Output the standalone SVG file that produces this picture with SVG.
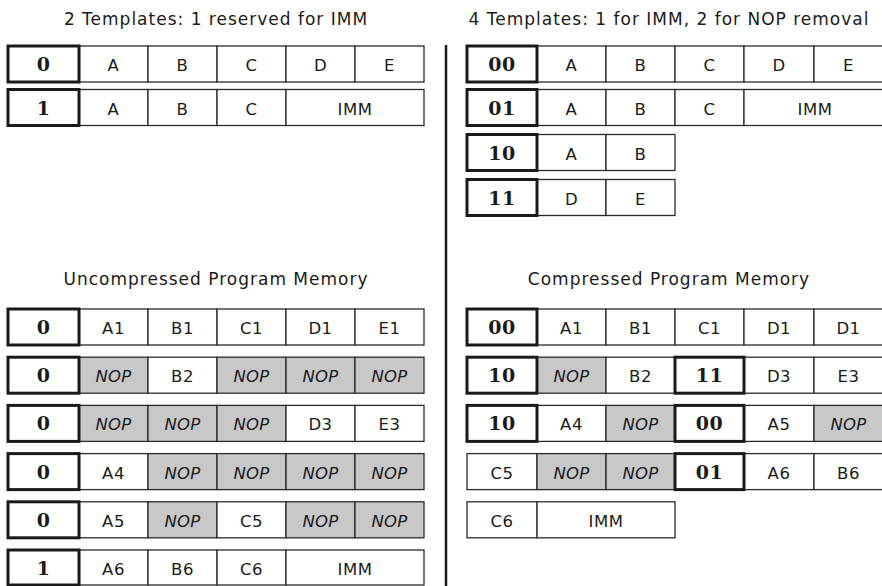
<svg xmlns="http://www.w3.org/2000/svg" width="882" height="586" viewBox="0 0 882 586">
<style>
.c{fill:#fff;stroke:#2a2a2a;stroke-width:1.3}
.g{fill:#c8c8c8;stroke:#2a2a2a;stroke-width:1.3}
.k{fill:#fff;stroke:#1a1a1a;stroke-width:3}
text{font-family:"DejaVu Sans",sans-serif;font-size:16.5px;letter-spacing:0.5px;text-anchor:middle;fill:#1a1a1a}
.i{font-style:italic;letter-spacing:0.2px}
.b{font-family:"DejaVu Serif",serif;font-weight:bold;font-size:19px;letter-spacing:0.5px}
.h{font-size:17px;letter-spacing:1px}
</style>
<rect width="882" height="586" fill="#fff"/>
<g id="titles">
<text class="h" x="216" y="25">2 Templates: 1 reserved for IMM</text>
<text class="h" x="669" y="25">4 Templates: 1 for IMM, 2 for NOP removal</text>
<text class="h" x="216" y="285">Uncompressed Program Memory</text>
<text class="h" x="669" y="285">Compressed Program Memory</text>
</g>
<g id="divider"><line x1="446" y1="45" x2="446" y2="586" stroke="#1a1a1a" stroke-width="2.5"/></g>

<!-- Left templates -->
<g id="lt0" transform="translate(0,46)">
<rect class="c" x="79" y="0" width="69" height="36"/><rect class="c" x="148" y="0" width="69" height="36"/><rect class="c" x="217" y="0" width="69" height="36"/><rect class="c" x="286" y="0" width="69" height="36"/><rect class="c" x="355" y="0" width="69" height="36"/>
<rect class="k" x="8" y="0" width="71" height="36"/>
<text class="b" x="43.5" y="25">0</text><text x="113.5" y="25">A</text><text x="182.5" y="25">B</text><text x="251.5" y="25">C</text><text x="320.5" y="25">D</text><text x="389.5" y="25">E</text>
</g>
<g id="lt1" transform="translate(0,89.5)">
<rect class="c" x="79" y="0" width="69" height="36"/><rect class="c" x="148" y="0" width="69" height="36"/><rect class="c" x="217" y="0" width="69" height="36"/><rect class="c" x="286" y="0" width="138" height="36"/>
<rect class="k" x="8" y="0" width="71" height="36"/>
<text class="b" x="43.5" y="25">1</text><text x="113.5" y="25">A</text><text x="182.5" y="25">B</text><text x="251.5" y="25">C</text><text x="355" y="25">IMM</text>
</g>

<!-- Right templates -->
<g id="rt00" transform="translate(0,46)">
<rect class="c" x="537" y="0" width="69" height="36"/><rect class="c" x="606" y="0" width="69" height="36"/><rect class="c" x="675" y="0" width="69" height="36"/><rect class="c" x="744" y="0" width="70" height="36"/><rect class="c" x="814" y="0" width="70" height="36"/>
<rect class="k" x="467" y="0" width="70" height="36"/>
<text class="b" x="502" y="25">00</text><text x="571.5" y="25">A</text><text x="640.5" y="25">B</text><text x="709.5" y="25">C</text><text x="779" y="25">D</text><text x="848.5" y="25">E</text>
</g>
<g id="rt01" transform="translate(0,89.5)">
<rect class="c" x="537" y="0" width="69" height="36"/><rect class="c" x="606" y="0" width="69" height="36"/><rect class="c" x="675" y="0" width="69" height="36"/><rect class="c" x="744" y="0" width="140" height="36"/>
<rect class="k" x="467" y="0" width="70" height="36"/>
<text class="b" x="502" y="25">01</text><text x="571.5" y="25">A</text><text x="640.5" y="25">B</text><text x="709.5" y="25">C</text><text x="815" y="25">IMM</text>
</g>
<g id="rt10" transform="translate(0,134.5)">
<rect class="c" x="537" y="0" width="69" height="36"/><rect class="c" x="606" y="0" width="69" height="36"/>
<rect class="k" x="467" y="0" width="70" height="36"/>
<text class="b" x="502" y="25">10</text><text x="571.5" y="25">A</text><text x="640.5" y="25">B</text>
</g>
<g id="rt11" transform="translate(0,179.5)">
<rect class="c" x="537" y="0" width="69" height="36"/><rect class="c" x="606" y="0" width="69" height="36"/>
<rect class="k" x="467" y="0" width="70" height="36"/>
<text class="b" x="502" y="25">11</text><text x="571.5" y="25">D</text><text x="640.5" y="25">E</text>
</g>

<!-- Uncompressed memory -->
<g id="um1" transform="translate(0,309)">
<rect class="c" x="79" y="0" width="69" height="36"/><rect class="c" x="148" y="0" width="69" height="36"/><rect class="c" x="217" y="0" width="69" height="36"/><rect class="c" x="286" y="0" width="69" height="36"/><rect class="c" x="355" y="0" width="69" height="36"/>
<rect class="k" x="8" y="0" width="71" height="36"/>
<text class="b" x="43.5" y="25">0</text><text x="113.5" y="25">A1</text><text x="182.5" y="25">B1</text><text x="251.5" y="25">C1</text><text x="320.5" y="25">D1</text><text x="389.5" y="25">E1</text>
</g>
<g id="um2" transform="translate(0,357.2)">
<rect class="g" x="79" y="0" width="69" height="36"/><rect class="c" x="148" y="0" width="69" height="36"/><rect class="g" x="217" y="0" width="69" height="36"/><rect class="g" x="286" y="0" width="69" height="36"/><rect class="g" x="355" y="0" width="69" height="36"/>
<rect class="k" x="8" y="0" width="71" height="36"/>
<text class="b" x="43.5" y="25">0</text><text class="i" x="113.5" y="25">NOP</text><text x="182.5" y="25">B2</text><text class="i" x="251.5" y="25">NOP</text><text class="i" x="320.5" y="25">NOP</text><text class="i" x="389.5" y="25">NOP</text>
</g>
<g id="um3" transform="translate(0,405.4)">
<rect class="g" x="79" y="0" width="69" height="36"/><rect class="g" x="148" y="0" width="69" height="36"/><rect class="g" x="217" y="0" width="69" height="36"/><rect class="c" x="286" y="0" width="69" height="36"/><rect class="c" x="355" y="0" width="69" height="36"/>
<rect class="k" x="8" y="0" width="71" height="36"/>
<text class="b" x="43.5" y="25">0</text><text class="i" x="113.5" y="25">NOP</text><text class="i" x="182.5" y="25">NOP</text><text class="i" x="251.5" y="25">NOP</text><text x="320.5" y="25">D3</text><text x="389.5" y="25">E3</text>
</g>
<g id="um4" transform="translate(0,453.6)">
<rect class="c" x="79" y="0" width="69" height="36"/><rect class="g" x="148" y="0" width="69" height="36"/><rect class="g" x="217" y="0" width="69" height="36"/><rect class="g" x="286" y="0" width="69" height="36"/><rect class="g" x="355" y="0" width="69" height="36"/>
<rect class="k" x="8" y="0" width="71" height="36"/>
<text class="b" x="43.5" y="25">0</text><text x="113.5" y="25">A4</text><text class="i" x="182.5" y="25">NOP</text><text class="i" x="251.5" y="25">NOP</text><text class="i" x="320.5" y="25">NOP</text><text class="i" x="389.5" y="25">NOP</text>
</g>
<g id="um5" transform="translate(0,501.8)">
<rect class="c" x="79" y="0" width="69" height="36"/><rect class="g" x="148" y="0" width="69" height="36"/><rect class="c" x="217" y="0" width="69" height="36"/><rect class="g" x="286" y="0" width="69" height="36"/><rect class="g" x="355" y="0" width="69" height="36"/>
<rect class="k" x="8" y="0" width="71" height="36"/>
<text class="b" x="43.5" y="25">0</text><text x="113.5" y="25">A5</text><text class="i" x="182.5" y="25">NOP</text><text x="251.5" y="25">C5</text><text class="i" x="320.5" y="25">NOP</text><text class="i" x="389.5" y="25">NOP</text>
</g>
<g id="um6" transform="translate(0,550)">
<rect class="c" x="79" y="0" width="69" height="35"/><rect class="c" x="148" y="0" width="69" height="35"/><rect class="c" x="217" y="0" width="69" height="35"/><rect class="c" x="286" y="0" width="138" height="35"/>
<rect class="k" x="8" y="0" width="71" height="35"/>
<text class="b" x="43.5" y="25">1</text><text x="113.5" y="25">A6</text><text x="182.5" y="25">B6</text><text x="251.5" y="25">C6</text><text x="355" y="25">IMM</text>
</g>

<!-- Compressed memory -->
<g id="cm1" transform="translate(0,309)">
<rect class="c" x="537" y="0" width="69" height="36"/><rect class="c" x="606" y="0" width="69" height="36"/><rect class="c" x="675" y="0" width="69" height="36"/><rect class="c" x="744" y="0" width="70" height="36"/><rect class="c" x="814" y="0" width="70" height="36"/>
<rect class="k" x="467" y="0" width="70" height="36"/>
<text class="b" x="502" y="25">00</text><text x="571.5" y="25">A1</text><text x="640.5" y="25">B1</text><text x="709.5" y="25">C1</text><text x="779" y="25">D1</text><text x="848.5" y="25">D1</text>
</g>
<g id="cm2" transform="translate(0,357.2)">
<rect class="g" x="537" y="0" width="69" height="36"/><rect class="c" x="606" y="0" width="69" height="36"/><rect class="c" x="744" y="0" width="70" height="36"/><rect class="c" x="814" y="0" width="70" height="36"/>
<rect class="k" x="467" y="0" width="70" height="36"/><rect class="k" x="675" y="0" width="69" height="36"/>
<text class="b" x="502" y="25">10</text><text class="i" x="571.5" y="25">NOP</text><text x="640.5" y="25">B2</text><text class="b" x="709.5" y="25">11</text><text x="779" y="25">D3</text><text x="848.5" y="25">E3</text>
</g>
<g id="cm3" transform="translate(0,405.4)">
<rect class="c" x="537" y="0" width="69" height="36"/><rect class="g" x="606" y="0" width="69" height="36"/><rect class="c" x="744" y="0" width="70" height="36"/><rect class="g" x="814" y="0" width="70" height="36"/>
<rect class="k" x="467" y="0" width="70" height="36"/><rect class="k" x="675" y="0" width="69" height="36"/>
<text class="b" x="502" y="25">10</text><text x="571.5" y="25">A4</text><text class="i" x="640.5" y="25">NOP</text><text class="b" x="709.5" y="25">00</text><text x="779" y="25">A5</text><text class="i" x="848.5" y="25">NOP</text>
</g>
<g id="cm4" transform="translate(0,453.6)">
<rect class="c" x="467" y="0" width="70" height="36"/><rect class="g" x="537" y="0" width="69" height="36"/><rect class="g" x="606" y="0" width="69" height="36"/><rect class="c" x="744" y="0" width="70" height="36"/><rect class="c" x="814" y="0" width="70" height="36"/>
<rect class="k" x="675" y="0" width="69" height="36"/>
<text x="502" y="25">C5</text><text class="i" x="571.5" y="25">NOP</text><text class="i" x="640.5" y="25">NOP</text><text class="b" x="709.5" y="25">01</text><text x="779" y="25">A6</text><text x="848.5" y="25">B6</text>
</g>
<g id="cm5" transform="translate(0,501.8)">
<rect class="c" x="467" y="0" width="70" height="36"/><rect class="c" x="537" y="0" width="138" height="36"/>
<text x="502" y="25">C6</text><text x="606" y="25">IMM</text>
</g>
</svg>
